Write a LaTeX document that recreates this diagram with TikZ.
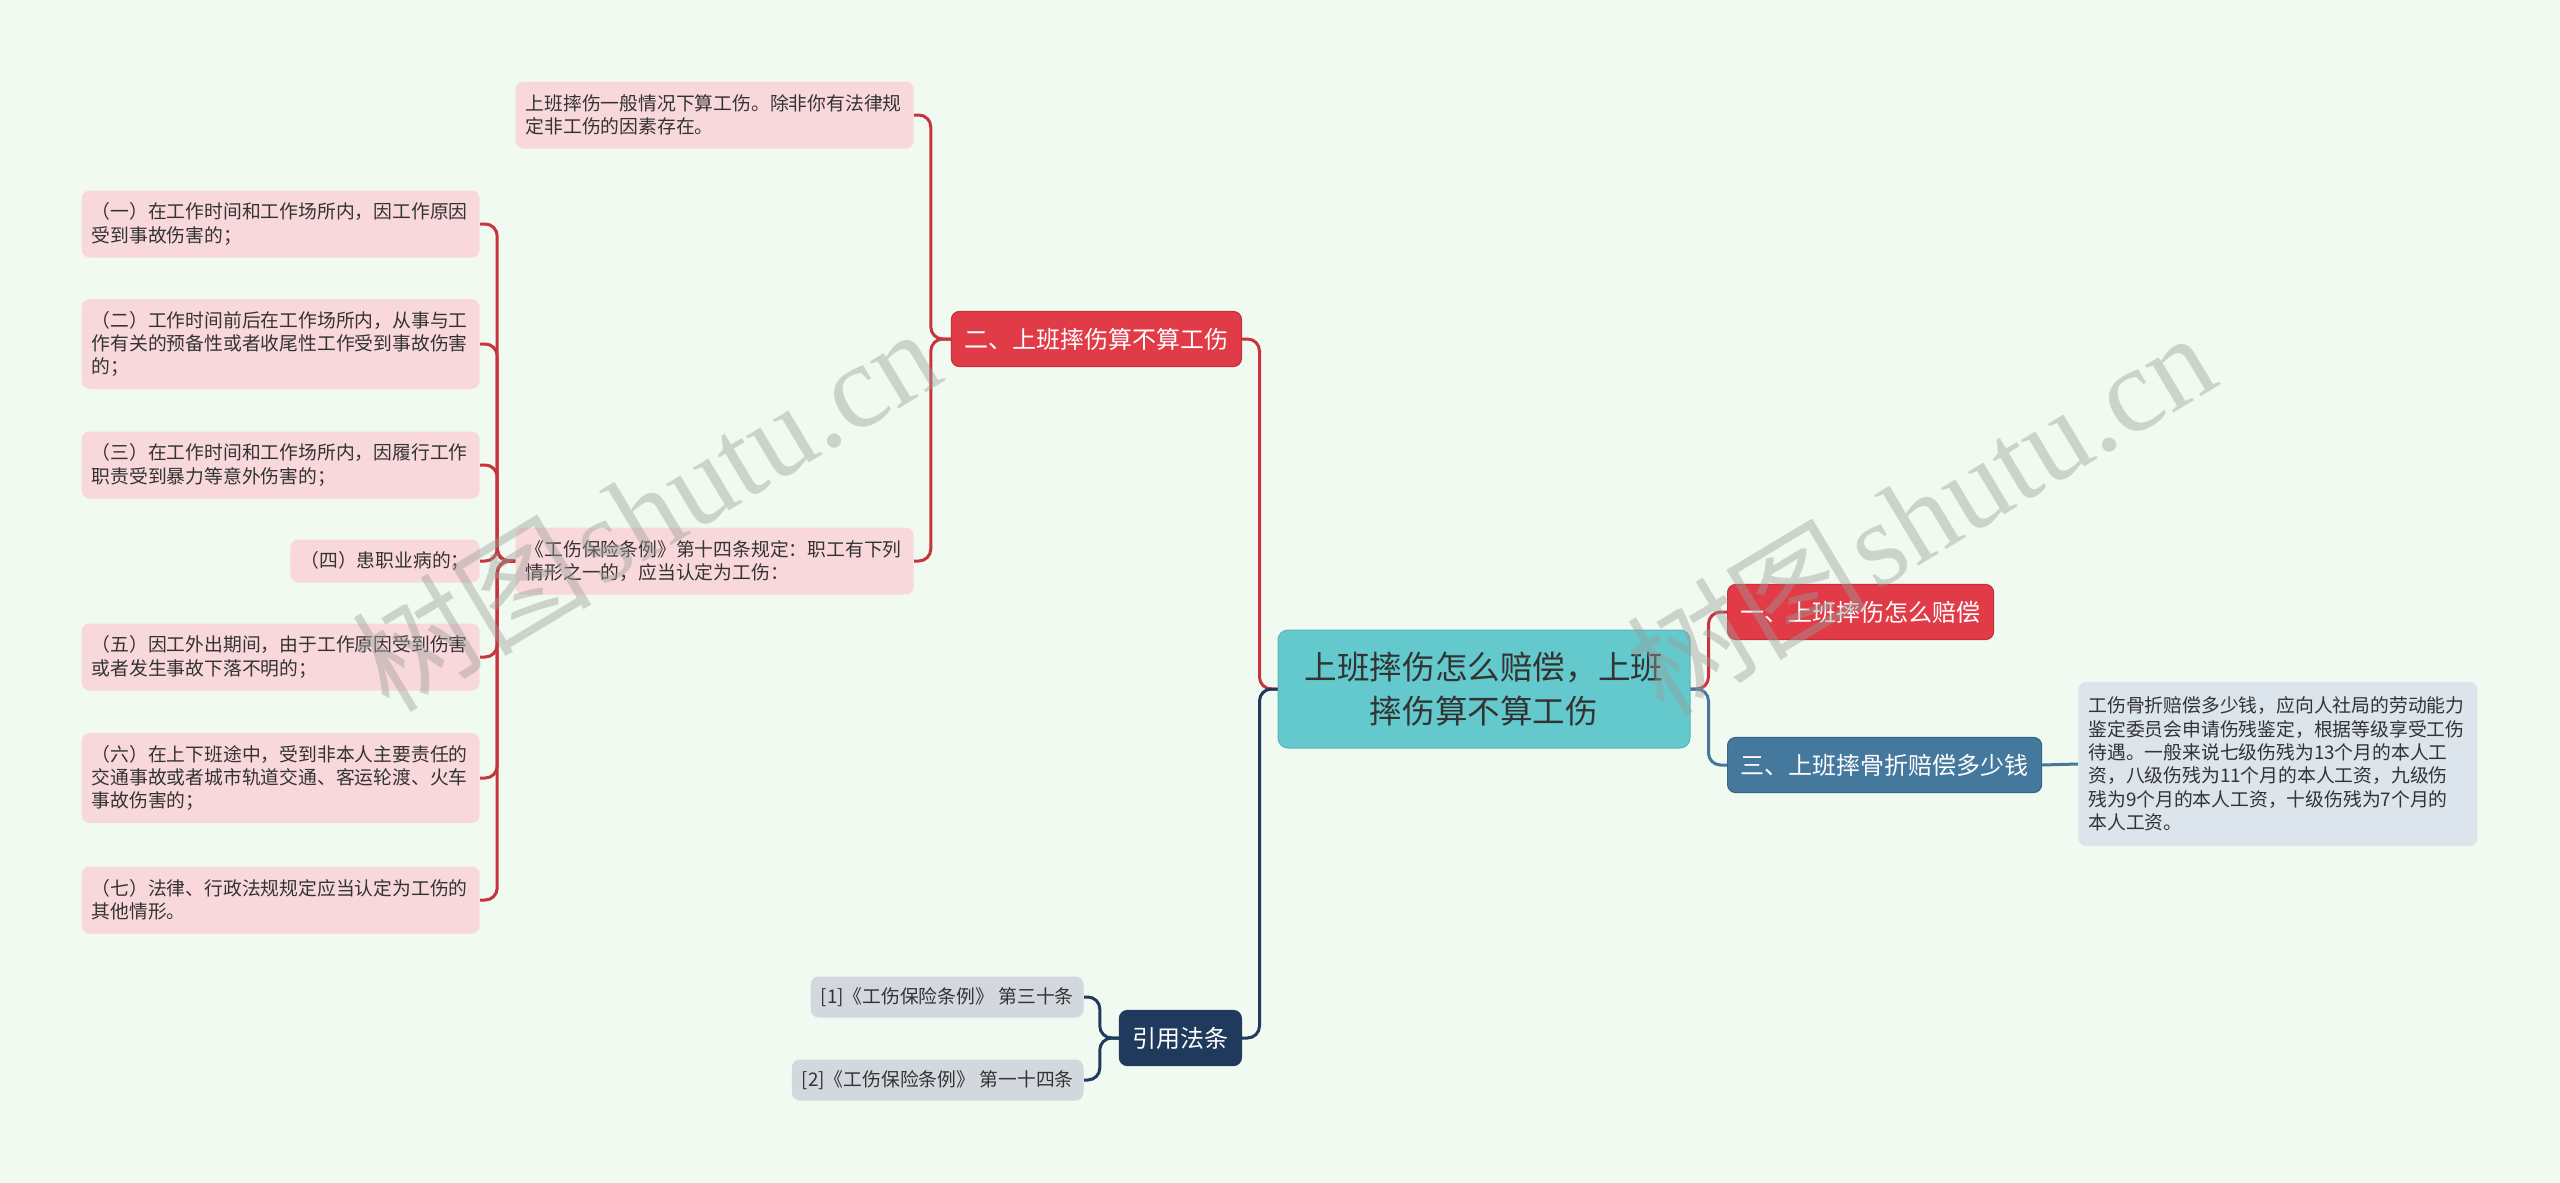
\documentclass[tikz,border=0pt]{standalone}
\usepackage{fontspec}
\setmainfont{Noto Sans CJK SC}
\newfontfamily\wmserif{Liberation Serif}
\definecolor{bgc}{HTML}{F1FAF0}
\definecolor{rootc}{HTML}{64C9CD}
\definecolor{redc}{HTML}{E13B48}
\definecolor{redb}{HTML}{C9303C}
\definecolor{bluec}{HTML}{44789D}
\definecolor{navyc}{HTML}{1F3A5D}
\definecolor{pinkc}{HTML}{F9D8DC}
\definecolor{leaftxt}{HTML}{333333}
\definecolor{greyc}{HTML}{D3D8DF}
\definecolor{rleafc}{HTML}{DCE4EC}
\definecolor{redl}{HTML}{C8343E}
\definecolor{wmc}{HTML}{9A9E9A}
\begin{document}
\begin{tikzpicture}[x=0.5pt,y=-0.5pt,
  leaf/.style={fill=pinkc, rounded corners=4pt, text=leaftxt,
    font=\fontsize{9.4}{11.7}\selectfont, inner xsep=5pt, inner ysep=3pt, align=left},
  gleaf/.style={leaf, fill=greyc, minimum height=20.5pt},
  branch/.style={rounded corners=4pt, text=white, font=\fontsize{12}{14}\selectfont,
    inner xsep=6.5pt, minimum height=27.5pt, line width=0.6pt},
  rootbox/.style={fill=rootc, draw=rootc!90!black, line width=0.5pt, rounded corners=5pt, text=leaftxt,
    font=\fontsize{16.3}{22}\selectfont, align=center, text width=190pt,
    inner xsep=8pt, minimum height=59pt},
  rline/.style={draw=redl, line width=1.5pt, rounded corners=6pt},
  bline/.style={draw=bluec, line width=1.5pt, rounded corners=6pt},
  nline/.style={draw=navyc, line width=1.5pt, rounded corners=6pt},
  wm/.style={text=wmc, opacity=0.42, rotate=31, font=\fontsize{60}{60}\selectfont}
]
\fill[bgc] (0,0) rectangle (2560,1183);
\useasboundingbox (0,0) rectangle (2560,1183);

% root
\node[rootbox] (root) at (1484,689) {上班摔伤怎么赔偿，上班\\摔伤算不算工伤};

% right branches
\node[branch, fill=redc, draw=redb, anchor=west] (b1) at (1727,612) {一、上班摔伤怎么赔偿};
\node[branch, fill=bluec, draw=bluec!85!black, anchor=west] (b3) at (1727,765) {三、上班摔骨折赔偿多少钱};
\node[leaf, fill=rleafc, anchor=west, text width=189.5pt, minimum height=82pt] (r1) at (2078,764)
  {工伤骨折赔偿多少钱，应向人社局的劳动能力\\鉴定委员会申请伤残鉴定，根据等级享受工伤\\待遇。一般来说七级伤残为13个月的本人工\\资，八级伤残为11个月的本人工资，九级伤\\残为9个月的本人工资，十级伤残为7个月的\\本人工资。};

% left branches
\node[branch, fill=redc, draw=redb, anchor=east] (b2) at (1242,339) {二、上班摔伤算不算工伤};
\node[branch, fill=navyc, draw=navyc, anchor=east] (b4) at (1242,1038) {引用法条};

\node[leaf, anchor=east, text width=189pt, minimum height=33.5pt] (l1) at (914,115)
  {上班摔伤一般情况下算工伤。除非你有法律规\\定非工伤的因素存在。};
\node[leaf, anchor=east, text width=189pt, minimum height=33.5pt] (l2) at (914,561)
  {《工伤保险条例》第十四条规定：职工有下列\\情形之一的，应当认定为工伤：};

\node[leaf, anchor=east, text width=189pt, minimum height=33.5pt] (i1) at (480,224)
  {（一）在工作时间和工作场所内，因工作原因\\受到事故伤害的；};
\node[leaf, anchor=east, text width=189pt, minimum height=45pt] (i2) at (480,344)
  {（二）工作时间前后在工作场所内，从事与工\\作有关的预备性或者收尾性工作受到事故伤害\\的；};
\node[leaf, anchor=east, text width=189pt, minimum height=33.5pt] (i3) at (480,465)
  {（三）在工作时间和工作场所内，因履行工作\\职责受到暴力等意外伤害的；};
\node[leaf, anchor=east, minimum height=21.5pt] (i4) at (480,561)
  {（四）患职业病的；};
\node[leaf, anchor=east, text width=189pt, minimum height=33.5pt] (i5) at (480,657)
  {（五）因工外出期间，由于工作原因受到伤害\\或者发生事故下落不明的；};
\node[leaf, anchor=east, text width=189pt, minimum height=45pt] (i6) at (480,778)
  {（六）在上下班途中，受到非本人主要责任的\\交通事故或者城市轨道交通、客运轮渡、火车\\事故伤害的；};
\node[leaf, anchor=east, text width=189pt, minimum height=33.5pt] (i7) at (480,900)
  {（七）法律、行政法规规定应当认定为工伤的\\其他情形。};

\node[gleaf, anchor=east] (c1) at (1084,997) {[1]《工伤保险条例》 第三十条};
\node[gleaf, anchor=east] (c2) at (1084,1080) {[2]《工伤保险条例》 第一十四条};

% connectors
\draw[rline] (root.east) -- ++(18,0) |- (b1.west);
\draw[bline] (root.east) -- ++(18,0) |- (b3.west);
\draw[bline] (b3.east) -- (r1.west);

\draw[rline] (root.west) -- ++(-18,0) |- (b2.east);
\draw[nline] (root.west) -- ++(-18,0) |- (b4.east);

\draw[rline] (b2.west) -- ++(-20,0) |- (l1.east);
\draw[rline] (b2.west) -- ++(-20,0) |- (l2.east);

\foreach \i in {i1,i2,i3,i4,i5,i6,i7}{
  \draw[rline] (l2.west) -- ++(-18,0) |- (\i.east);
}

\draw[nline] (b4.west) -- ++(-19,0) |- (c1.east);
\draw[nline] (b4.west) -- ++(-19,0) |- (c2.east);

% watermarks
\node[wm] (wm1) at (645,508) {树图\hspace{4pt}{\wmserif shutu.cn}};
\node[wm] (wm2) at (1920,512) {树图\hspace{4pt}{\wmserif shutu.cn}};
\end{tikzpicture}
\end{document}
